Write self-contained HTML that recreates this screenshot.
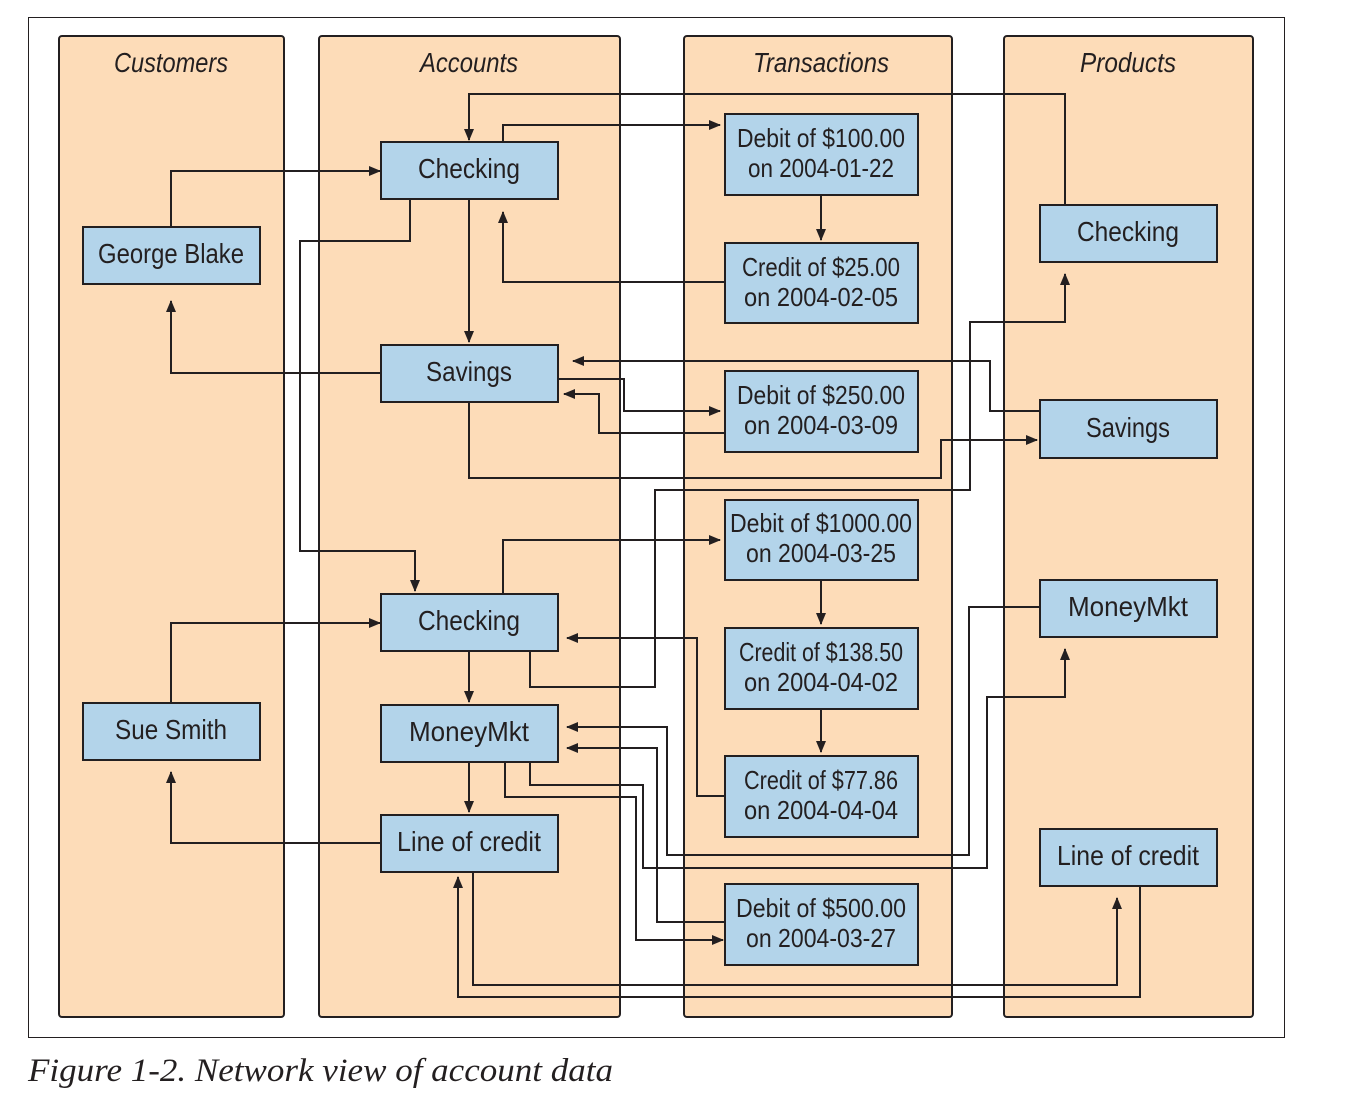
<!DOCTYPE html>
<html><head><meta charset="utf-8"><style>
html,body{margin:0;padding:0;background:#fff;}
svg{display:block}
.col{fill:#fddcb8;stroke:#231f20;stroke-width:2}
.box{fill:#b3d4ea;stroke:#231f20;stroke-width:2}
.ln{fill:none;stroke:#231f20;stroke-width:2}
.h{font-family:"Liberation Sans",sans-serif;font-style:italic;font-size:28px;fill:#231f20}
.t{font-family:"Liberation Sans",sans-serif;font-size:28px;fill:#231f20}
.s{font-family:"Liberation Sans",sans-serif;font-size:26px;fill:#231f20}
</style></head><body>
<svg width="1346" height="1110" viewBox="0 0 1346 1110" xmlns="http://www.w3.org/2000/svg">
<defs><marker id="a" markerWidth="12" markerHeight="10" refX="11" refY="5" orient="auto" markerUnits="userSpaceOnUse"><path d="M0,0 L12,5 L0,10 z" fill="#231f20"/></marker></defs>
<rect x="28.5" y="17.5" width="1256" height="1020" fill="#fff" stroke="#231f20" stroke-width="1"/>
<rect class="col" x="59" y="36" width="225" height="981" rx="3"/>
<rect class="col" x="319" y="36" width="301" height="981" rx="3"/>
<rect class="col" x="684" y="36" width="268" height="981" rx="3"/>
<rect class="col" x="1004" y="36" width="249" height="981" rx="3"/>
<text class="h" x="171" y="72" text-anchor="middle" textLength="114" lengthAdjust="spacingAndGlyphs">Customers</text>
<text class="h" x="469" y="72" text-anchor="middle" textLength="98" lengthAdjust="spacingAndGlyphs">Accounts</text>
<text class="h" x="821" y="72" text-anchor="middle" textLength="136" lengthAdjust="spacingAndGlyphs">Transactions</text>
<text class="h" x="1128" y="72" text-anchor="middle" textLength="96" lengthAdjust="spacingAndGlyphs">Products</text>

<g class="ln" marker-end="url(#a)">
<polyline points="171,227 171,171 380,171"/>
<polyline points="381,373 171,373 171,301"/>
<polyline points="171,703 171,623 380,623"/>
<polyline points="381,843 171,843 171,772"/>
<polyline points="1065,205 1065,94 469,94 469,140"/>
<polyline points="503,142 503,125 720,125"/>
<polyline points="821,195 821,240"/>
<polyline points="725,282 503,282 503,212"/>
<polyline points="469,199 469,342"/>
<polyline points="410,199 410,241 300,241 300,551 415,551 415,591"/>
<polyline points="558,379 624,379 624,411 720,411"/>
<polyline points="725,433 599,433 599,394 564,394"/>
<polyline points="1040,411 990,411 990,361 573,361"/>
<polyline points="469,402 469,478 941,478 941,440 1037,440"/>
<polyline points="530,651 530,687 655,687 655,490 970,490 970,322 1065,322 1065,274"/>
<polyline points="503,594 503,540 720,540"/>
<polyline points="821,580 821,624"/>
<polyline points="821,709 821,752"/>
<polyline points="725,796 697,796 697,638 567,638"/>
<polyline points="469,651 469,702"/>
<polyline points="469,762 469,812"/>
<polyline points="1040,607 969,607 969,855 667,855 667,727 567,727"/>
<polyline points="725,922 657,922 657,748 567,748"/>
<polyline points="530,762 530,785 643,785 643,868 987,868 987,697 1065,697 1065,649"/>
<polyline points="505,762 505,797 636,797 636,940 723,940"/>
<polyline points="473,872 473,985 1117,985 1117,898"/>
<polyline points="1140,886 1140,997 458,997 458,877"/>
</g>

<rect class="box" x="83" y="227" width="177" height="57"/>
<text class="t" x="171" y="263" text-anchor="middle" textLength="146" lengthAdjust="spacingAndGlyphs">George Blake</text>
<rect class="box" x="83" y="703" width="177" height="57"/>
<text class="t" x="171" y="739" text-anchor="middle" textLength="112" lengthAdjust="spacingAndGlyphs">Sue Smith</text>

<rect class="box" x="381" y="142" width="177" height="57"/>
<text class="t" x="469" y="178" text-anchor="middle" textLength="102" lengthAdjust="spacingAndGlyphs">Checking</text>
<rect class="box" x="381" y="345" width="177" height="57"/>
<text class="t" x="469" y="381" text-anchor="middle" textLength="86" lengthAdjust="spacingAndGlyphs">Savings</text>
<rect class="box" x="381" y="594" width="177" height="57"/>
<text class="t" x="469" y="630" text-anchor="middle" textLength="102" lengthAdjust="spacingAndGlyphs">Checking</text>
<rect class="box" x="381" y="705" width="177" height="57"/>
<text class="t" x="469" y="741" text-anchor="middle" textLength="120" lengthAdjust="spacingAndGlyphs">MoneyMkt</text>
<rect class="box" x="381" y="815" width="177" height="57"/>
<text class="t" x="469" y="851" text-anchor="middle" textLength="144" lengthAdjust="spacingAndGlyphs">Line of credit</text>

<rect class="box" x="725" y="114" width="193" height="81"/>
<text class="s" x="821" y="147" text-anchor="middle" textLength="168" lengthAdjust="spacingAndGlyphs">Debit of $100.00</text>
<text class="s" x="821" y="177" text-anchor="middle" textLength="146" lengthAdjust="spacingAndGlyphs">on 2004-01-22</text>
<rect class="box" x="725" y="243" width="193" height="80"/>
<text class="s" x="821" y="276" text-anchor="middle" textLength="158" lengthAdjust="spacingAndGlyphs">Credit of $25.00</text>
<text class="s" x="821" y="306" text-anchor="middle" textLength="154" lengthAdjust="spacingAndGlyphs">on 2004-02-05</text>
<rect class="box" x="725" y="371" width="193" height="81"/>
<text class="s" x="821" y="404" text-anchor="middle" textLength="168" lengthAdjust="spacingAndGlyphs">Debit of $250.00</text>
<text class="s" x="821" y="434" text-anchor="middle" textLength="154" lengthAdjust="spacingAndGlyphs">on 2004-03-09</text>
<rect class="box" x="725" y="500" width="193" height="80"/>
<text class="s" x="821" y="532" text-anchor="middle" textLength="182" lengthAdjust="spacingAndGlyphs">Debit of $1000.00</text>
<text class="s" x="821" y="562" text-anchor="middle" textLength="150" lengthAdjust="spacingAndGlyphs">on 2004-03-25</text>
<rect class="box" x="725" y="628" width="193" height="81"/>
<text class="s" x="821" y="661" text-anchor="middle" textLength="164" lengthAdjust="spacingAndGlyphs">Credit of $138.50</text>
<text class="s" x="821" y="691" text-anchor="middle" textLength="154" lengthAdjust="spacingAndGlyphs">on 2004-04-02</text>
<rect class="box" x="725" y="756" width="193" height="81"/>
<text class="s" x="821" y="789" text-anchor="middle" textLength="154" lengthAdjust="spacingAndGlyphs">Credit of $77.86</text>
<text class="s" x="821" y="819" text-anchor="middle" textLength="154" lengthAdjust="spacingAndGlyphs">on 2004-04-04</text>
<rect class="box" x="725" y="884" width="193" height="81"/>
<text class="s" x="821" y="917" text-anchor="middle" textLength="170" lengthAdjust="spacingAndGlyphs">Debit of $500.00</text>
<text class="s" x="821" y="947" text-anchor="middle" textLength="150" lengthAdjust="spacingAndGlyphs">on 2004-03-27</text>

<rect class="box" x="1040" y="205" width="177" height="57"/>
<text class="t" x="1128" y="241" text-anchor="middle" textLength="102" lengthAdjust="spacingAndGlyphs">Checking</text>
<rect class="box" x="1040" y="400" width="177" height="58"/>
<text class="t" x="1128" y="437" text-anchor="middle" textLength="84" lengthAdjust="spacingAndGlyphs">Savings</text>
<rect class="box" x="1040" y="580" width="177" height="57"/>
<text class="t" x="1128" y="616" text-anchor="middle" textLength="120" lengthAdjust="spacingAndGlyphs">MoneyMkt</text>
<rect class="box" x="1040" y="829" width="177" height="57"/>
<text class="t" x="1128" y="865" text-anchor="middle" textLength="142" lengthAdjust="spacingAndGlyphs">Line of credit</text>

<text x="28" y="1081" font-family="Liberation Serif, serif" font-style="italic" font-size="33" fill="#231f20" textLength="585" lengthAdjust="spacingAndGlyphs">Figure 1-2. Network view of account data</text>
</svg>
</body></html>
